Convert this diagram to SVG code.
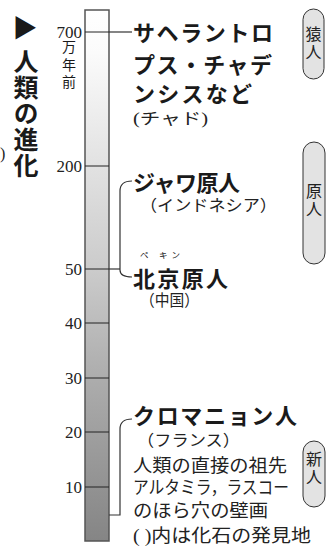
<svg xmlns="http://www.w3.org/2000/svg" width="328" height="547" viewBox="0 0 328 547">
<defs>
<linearGradient id="barg" x1="0" y1="10" x2="0" y2="541" gradientUnits="userSpaceOnUse">
<stop offset="0" stop-color="#ffffff"/>
<stop offset="0.08" stop-color="#fbfbfb"/>
<stop offset="0.29" stop-color="#e2e2e2"/>
<stop offset="0.49" stop-color="#cbcbcb"/>
<stop offset="0.69" stop-color="#adadad"/>
<stop offset="1" stop-color="#858585"/>
</linearGradient>
<style>
.jp{font-family:"Noto Sans CJK JP","Noto Sans",sans-serif;fill:#1a1a1a}
.b{font-weight:700;font-size:22px}
.s{font-family:"Liberation Serif","Noto Sans CJK JP",serif;font-size:16px;fill:#222}
.m{font-family:"Liberation Serif","Noto Sans CJK JP",serif;font-size:18px;fill:#222}
.num{font-family:"Liberation Serif",serif;font-size:17px;fill:#222;text-anchor:end}
.tick{stroke:#222;stroke-width:1}
.con{fill:none;stroke:#333;stroke-width:1.2}
.pill{fill:#e3e3e3;stroke:#333;stroke-width:1}
.v{writing-mode:vertical-rl;text-orientation:upright}
.pt{font-family:"Noto Sans CJK JP",sans-serif;font-size:16px;fill:#222;letter-spacing:2px}
.tt{font-family:"Noto Sans CJK JP","Noto Sans",sans-serif;fill:#1a1a1a;font-weight:700;font-size:25px}
</style>
</defs>
<rect width="328" height="547" fill="#ffffff"/>

<g id="title">
<text class="tt" x="25" y="37" text-anchor="middle">▶</text>
<text class="tt v" x="26" y="49" letter-spacing="1">人類の進化</text>
<text class="s" x="0" y="159" font-size="14">)</text>
</g>

<g id="scale">
<rect x="85" y="10" width="24" height="531" fill="url(#barg)" stroke="#555" stroke-width="1.5"/>
<line class="tick" x1="85" y1="166" x2="109" y2="166"/>
<line class="tick" x1="85" y1="323" x2="109" y2="323"/>
<line class="tick" x1="85" y1="378" x2="109" y2="378"/>
<line class="tick" x1="85" y1="432" x2="109" y2="432"/>
<line class="tick" x1="85" y1="487" x2="109" y2="487"/>
<line class="tick" x1="85" y1="269" x2="109" y2="269"/>
<line class="tick" x1="85" y1="32" x2="109" y2="32"/>
<text class="num" x="82" y="38">700</text>
<text class="jp v" font-size="14" x="69" y="40" letter-spacing="3.5">万年前</text>
<text class="num" x="82" y="172">200</text>
<text class="num" x="82" y="275">50</text>
<text class="num" x="82" y="329">40</text>
<text class="num" x="82" y="384">30</text>
<text class="num" x="82" y="438">20</text>
<text class="num" x="82" y="493">10</text>
</g>

<g id="connectors">
<line class="con" x1="109" y1="32" x2="132" y2="32"/>
<path class="con" d="M132,181 Q120,181 120,191 L120,270 Q120,277 132,277"/>
<line class="con" x1="109" y1="269" x2="120" y2="269"/>
<path class="con" d="M132,419 Q120,419 120,429 L120,515 L109,515"/>
</g>

<g id="sahelanthropus">
<text class="jp b" x="133" y="41" textLength="140" lengthAdjust="spacing">サヘラントロ</text>
<text class="jp b" x="133" y="73" textLength="139" lengthAdjust="spacing">プス・チャデ</text>
<text class="jp b" x="133" y="102" textLength="119" lengthAdjust="spacing">ンシスなど</text>
<text class="s" x="133" y="124" textLength="75" lengthAdjust="spacingAndGlyphs">(チャド)</text>
</g>

<g id="java">
<text class="jp b" x="133" y="191" textLength="107" lengthAdjust="spacing">ジャワ原人</text>
<text class="s" x="140" y="211" textLength="137" lengthAdjust="spacingAndGlyphs">（インドネシア）</text>
</g>

<g id="peking">
<text class="jp" x="140" y="257.5" font-size="8.5" textLength="40" lengthAdjust="spacing">ペ キン</text>
<text class="jp b" x="133" y="287" textLength="95" lengthAdjust="spacing">北京原人</text>
<text class="s" x="140" y="306" textLength="59" lengthAdjust="spacingAndGlyphs">（中国）</text>
</g>

<g id="cromagnon">
<text class="jp b" x="133" y="424" textLength="164" lengthAdjust="spacing">クロマニョン人</text>
<text class="s" x="137" y="446" textLength="103" lengthAdjust="spacingAndGlyphs">（フランス）</text>
<text class="m" x="133" y="472" textLength="154" lengthAdjust="spacingAndGlyphs">人類の直接の祖先</text>
<text class="m" x="133" y="494" textLength="156" lengthAdjust="spacingAndGlyphs">アルタミラ，ラスコー</text>
<text class="m" x="133" y="517" textLength="135" lengthAdjust="spacingAndGlyphs">のほら穴の壁画</text>
</g>

<g id="note">
<text class="m" x="133" y="542" textLength="178" lengthAdjust="spacingAndGlyphs">( )内は化石の発見地</text>
</g>

<g id="pill-enjin">
<rect class="pill" x="303" y="9" width="21" height="70" rx="10.5"/>
<text class="pt v" x="313.5" y="26">猿人</text>
</g>
<g id="pill-genjin">
<rect class="pill" x="303" y="142" width="22" height="122" rx="11"/>
<text class="pt v" x="314" y="183">原人</text>
</g>
<g id="pill-shinjin">
<rect class="pill" x="303" y="441" width="22" height="66" rx="11"/>
<text class="pt v" x="314" y="451">新人</text>
</g>
</svg>
